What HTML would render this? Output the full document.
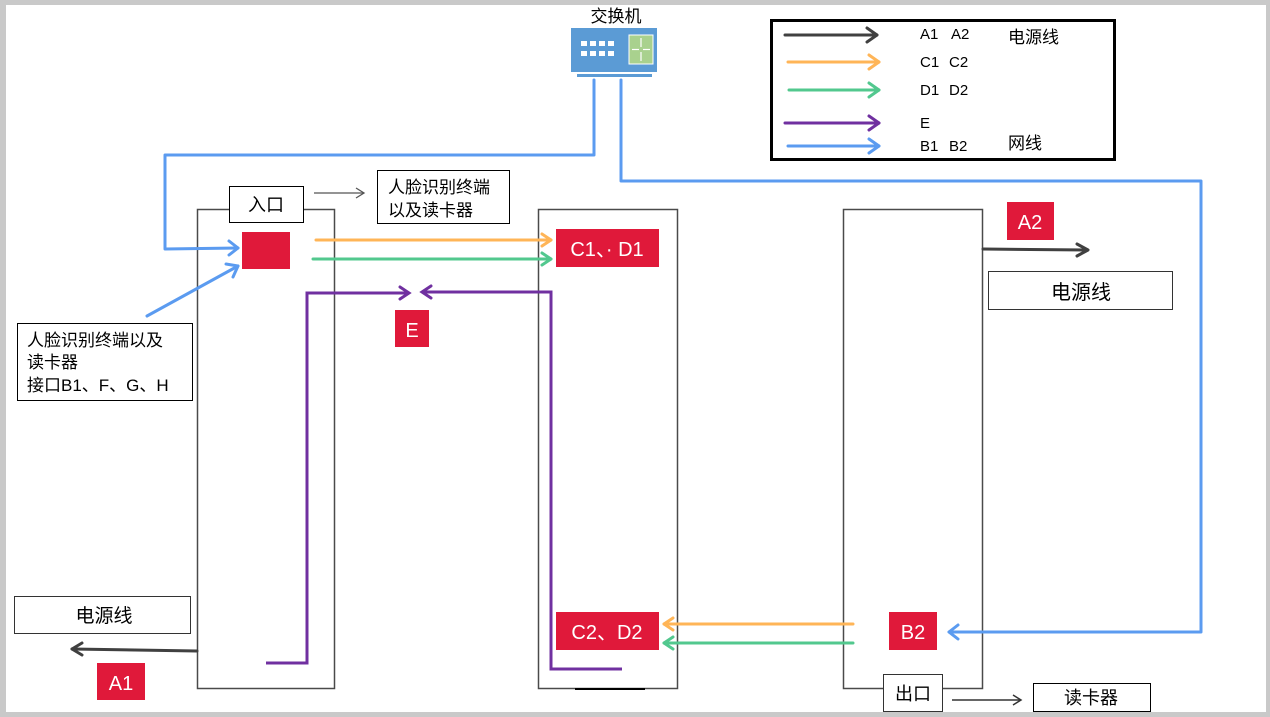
<!DOCTYPE html>
<html><head><meta charset="utf-8">
<style>
html,body{margin:0;padding:0;background:#fff;}
svg{display:block;}
text{font-family:"Liberation Sans","Noto Sans CJK SC",sans-serif;}
</style></head>
<body>
<svg width="1270" height="717" viewBox="0 0 1270 717" xmlns="http://www.w3.org/2000/svg">
<!-- frame -->
<rect x="0" y="0" width="1270" height="717" fill="#c9c9c9"/>
<rect x="6" y="5" width="1260" height="707" fill="#fff"/>

<!-- switch -->
<text x="616" y="22" font-size="17" text-anchor="middle" fill="#000">交换机</text>
<rect x="571" y="28" width="86" height="44" fill="#5b9bd5"/>
<rect x="629" y="35" width="24" height="29" fill="#a9d18e" stroke="#fff" stroke-width="1"/>
<g stroke="#fff" stroke-width="1.2" fill="none">
<line x1="641" y1="38" x2="641" y2="47"/><line x1="641" y1="52" x2="641" y2="61"/>
<line x1="632" y1="49.5" x2="639" y2="49.5"/><line x1="643" y1="49.5" x2="650" y2="49.5"/>
</g>
<g fill="#fff">
<rect x="581" y="41" width="6" height="5"/><rect x="590" y="41" width="6" height="5"/><rect x="599" y="41" width="6" height="5"/><rect x="608" y="41" width="6" height="5"/>
<rect x="581" y="51" width="6" height="5"/><rect x="590" y="51" width="6" height="5"/><rect x="599" y="51" width="6" height="5"/><rect x="608" y="51" width="6" height="5"/>
</g>
<rect x="577" y="74" width="75" height="3" fill="#5b9bd5"/>

<!-- legend -->
<rect x="771.5" y="20.5" width="343" height="139" fill="#fff" stroke="#000" stroke-width="3"/>
<g stroke-width="3" fill="none" stroke-linecap="round" stroke-linejoin="round">
<line x1="785" y1="35" x2="877" y2="35" stroke="#404040"/><polyline points="867,28 877,35 867,42" stroke="#404040"/>
<line x1="788" y1="62" x2="879" y2="62" stroke="#ffb557"/><polyline points="869,55 879,62 869,69" stroke="#ffb557"/>
<line x1="789" y1="90" x2="879" y2="90" stroke="#52c88e"/><polyline points="869,83 879,90 869,97" stroke="#52c88e"/>
<line x1="785" y1="123" x2="879" y2="123" stroke="#7030a0"/><polyline points="869,116 879,123 869,130" stroke="#7030a0"/>
<line x1="788" y1="146" x2="879" y2="146" stroke="#5b9bf0"/><polyline points="869,139 879,146 869,153" stroke="#5b9bf0"/>
</g>
<g font-size="15" fill="#000">
<text x="920" y="39">A1</text><text x="951" y="39">A2</text>
<text x="920" y="67">C1</text><text x="949" y="67">C2</text>
<text x="920" y="95">D1</text><text x="949" y="95">D2</text>
<text x="920" y="128">E</text>
<text x="920" y="151">B1</text><text x="949" y="151">B2</text>
</g>
<text x="1008" y="43" font-size="17" fill="#000">电源线</text>
<text x="1008" y="149" font-size="17" fill="#000">网线</text>

<!-- pillars -->
<g fill="none" stroke="#4a4a4a" stroke-width="1.5">
<rect x="197.5" y="209.5" width="137" height="479"/>
<rect x="538.5" y="209.5" width="139" height="479"/>
<rect x="843.5" y="209.5" width="139" height="479"/>
</g>
<line x1="575" y1="689" x2="645" y2="689" stroke="#000" stroke-width="2"/>

<!-- entry label & description -->
<rect x="229.5" y="186.5" width="74" height="36" fill="#fff" stroke="#000" stroke-width="1"/>
<text x="266" y="211" font-size="18" text-anchor="middle" fill="#000">入口</text>
<line x1="314" y1="193" x2="364" y2="193" stroke="#555" stroke-width="1.3"/>
<polyline points="356,188 364,193 356,198" fill="none" stroke="#555" stroke-width="1.3"/>
<rect x="377.5" y="170.5" width="132" height="53" fill="#fff" stroke="#000" stroke-width="1"/>
<text x="388" y="193" font-size="17" fill="#000">人脸识别终端</text>
<text x="388" y="216" font-size="17" fill="#000">以及读卡器</text>

<!-- left description box -->
<rect x="17.5" y="323.5" width="175" height="77" fill="#fff" stroke="#000" stroke-width="1"/>
<text x="27" y="346" font-size="17" fill="#000">人脸识别终端以及</text>
<text x="27" y="368" font-size="17" fill="#000">读卡器</text>
<text x="27" y="391" font-size="17" fill="#000">接口B1、F、G、H</text>

<!-- blue network lines -->
<g stroke="#5b9bf0" stroke-width="3" fill="none" stroke-linejoin="round" stroke-linecap="round">
<polyline points="594,80 594,155 165,155 165,249 238,248"/>
<polyline points="229,241 238,248 229,255"/>
<polyline points="621,80 621,181 1201,181 1201,632 949,632"/>
<polyline points="958,625 949,632 958,639"/>
<line x1="147" y1="316" x2="238" y2="266"/>
<polyline points="226,264 238,266 233,277"/>
</g>

<!-- red square -->
<rect x="242" y="232" width="48" height="37" fill="#e0193a"/>

<!-- orange / green C1 D1 -->
<g stroke-width="3" fill="none" stroke-linecap="round" stroke-linejoin="round">
<line x1="316" y1="240" x2="551" y2="240" stroke="#ffb557"/><polyline points="542,234 551,240 542,246" stroke="#ffb557"/>
<line x1="313" y1="259" x2="551" y2="259" stroke="#52c88e"/><polyline points="542,253 551,259 542,265" stroke="#52c88e"/>
<line x1="853" y1="624" x2="664" y2="624" stroke="#ffb557"/><polyline points="673,618 664,624 673,630" stroke="#ffb557"/>
<line x1="853" y1="643" x2="664" y2="643" stroke="#52c88e"/><polyline points="673,637 664,643 673,649" stroke="#52c88e"/>
</g>

<!-- purple E -->
<g stroke="#7030a0" stroke-width="3" fill="none" stroke-linejoin="miter">
<polyline points="266,663 307,663 307,293 408,293"/>
<polyline points="400,287 409,293 400,299" stroke-linecap="round"/>
<polyline points="622,669 551,669 551,292 422,292"/>
<polyline points="431,286 422,292 431,298" stroke-linecap="round"/>
</g>

<!-- red labels -->
<rect x="556" y="229" width="103" height="38" fill="#e0193a"/>
<text x="607" y="256" font-size="20" text-anchor="middle" fill="#fff">C1、· D1</text>
<rect x="395" y="310" width="34" height="37" fill="#e0193a"/>
<text x="412" y="337" font-size="20" text-anchor="middle" fill="#fff">E</text>
<rect x="556" y="612" width="103" height="38" fill="#e0193a"/>
<text x="607" y="639" font-size="20" text-anchor="middle" fill="#fff">C2、D2</text>
<rect x="1007" y="202" width="47" height="38" fill="#e0193a"/>
<text x="1030" y="229" font-size="20" text-anchor="middle" fill="#fff">A2</text>
<rect x="889" y="612" width="48" height="38" fill="#e0193a"/>
<text x="913" y="639" font-size="20" text-anchor="middle" fill="#fff">B2</text>
<rect x="97" y="663" width="48" height="37" fill="#e0193a"/>
<text x="121" y="690" font-size="20" text-anchor="middle" fill="#fff">A1</text>

<!-- power lines -->
<g stroke="#404040" stroke-width="3" fill="none" stroke-linecap="round" stroke-linejoin="round">
<line x1="983" y1="249" x2="1087" y2="250"/><polyline points="1077,244 1088,250 1077,256"/>
<line x1="197" y1="651" x2="72" y2="649"/><polyline points="82,643 72,649 82,655"/>
</g>
<rect x="988.5" y="271.5" width="184" height="38" fill="#fff" stroke="#333" stroke-width="1"/>
<text x="1081" y="299" font-size="20" text-anchor="middle" fill="#000">电源线</text>
<rect x="14.5" y="596.5" width="176" height="37" fill="#fff" stroke="#333" stroke-width="1"/>
<text x="104" y="622" font-size="19" text-anchor="middle" fill="#000">电源线</text>

<!-- exit -->
<rect x="883.5" y="674.5" width="59" height="37" fill="#fff" stroke="#333" stroke-width="1"/>
<text x="913" y="700" font-size="18" text-anchor="middle" fill="#000">出口</text>
<line x1="952" y1="700" x2="1021" y2="700" stroke="#333" stroke-width="1.5"/>
<polyline points="1013,695 1021,700 1013,705" fill="none" stroke="#333" stroke-width="1.5"/>
<rect x="1033.5" y="683.5" width="117" height="28" fill="#fff" stroke="#000" stroke-width="1"/>
<text x="1091" y="704" font-size="18" text-anchor="middle" fill="#000">读卡器</text>
</svg>
</body></html>
